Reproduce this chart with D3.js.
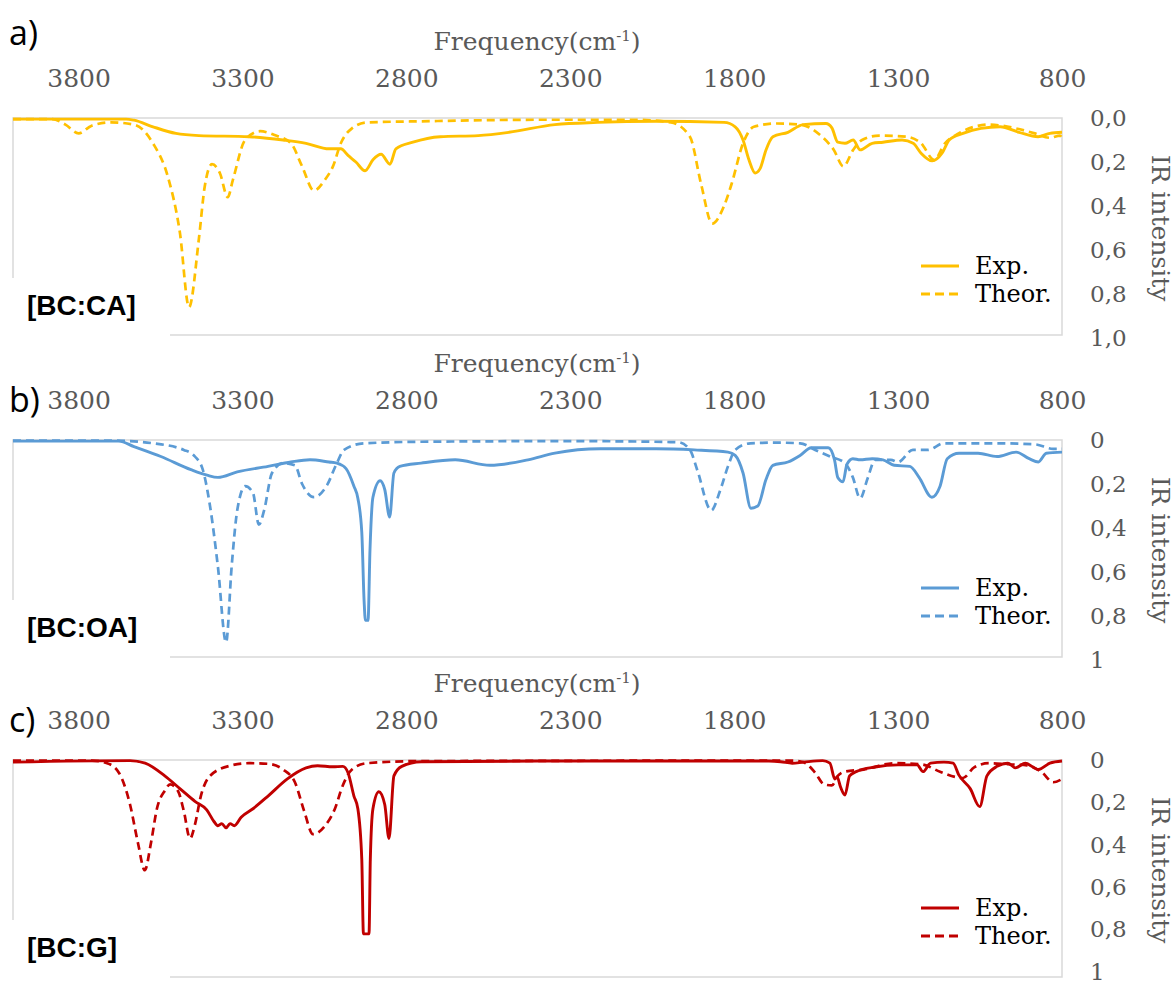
<!DOCTYPE html>
<html>
<head>
<meta charset="utf-8">
<script src="https://cdn.jsdelivr.net/npm/d3@7"></script>
<style>
  body { margin: 0; background: #fff; }
  svg text { font-family: "DejaVu Serif", serif; }
</style>
</head>
<body>
<div id="chart"></div>
<script>
// frequency axis ticks and intensity ticks
const freqTicks = [3800, 3300, 2800, 2300, 1800, 1300, 800];
const intensityTicks = [0, 0.2, 0.4, 0.6, 0.8, 1];
const panelLetters = ['a)', 'b)', 'c)'];
const systemLabels = ['[BC:CA]', '[BC:OA]', '[BC:G]'];
const seriesNames = ['Exp.', 'Theor.'];

// [frequency cm-1, IR intensity]
const caExp = [[4000,0.005],[3655,0.005],[3631,0.01],[3573,0.04],[3503,0.07],[3433,0.08],[3280,0.085],[3176,0.10],[3106,0.115],[3036,0.14],[3000,0.14],[2978,0.17],[2954,0.20],[2926,0.24],[2902,0.19],[2877,0.165],[2850,0.21],[2832,0.14],[2780,0.11],[2697,0.085],[2581,0.08],[2487,0.065],[2347,0.03],[2218,0.02],[2038,0.015],[1831,0.02],[1797,0.04],[1773,0.10],[1755,0.19],[1736,0.25],[1721,0.23],[1703,0.145],[1682,0.085],[1636,0.065],[1590,0.03],[1520,0.025],[1502,0.045],[1484,0.11],[1462,0.115],[1437,0.10],[1416,0.145],[1379,0.115],[1346,0.11],[1288,0.10],[1254,0.115],[1230,0.16],[1196,0.195],[1166,0.16],[1144,0.10],[1102,0.07],[1047,0.047],[989,0.04],[931,0.065],[873,0.085],[837,0.07],[800,0.065]];
const caTheor = [[4000,0.005],[3880,0.005],[3840,0.03],[3800,0.07],[3760,0.035],[3701,0.02],[3631,0.03],[3573,0.115],[3527,0.27],[3491,0.52],[3463,0.86],[3433,0.55],[3415,0.31],[3393,0.21],[3369,0.25],[3345,0.36],[3329,0.28],[3292,0.10],[3246,0.06],[3198,0.08],[3152,0.115],[3118,0.22],[3082,0.33],[3048,0.28],[3024,0.22],[3000,0.115],[2966,0.047],[2920,0.02],[2755,0.015],[2400,0.008],[2100,0.008],[1993,0.02],[1935,0.085],[1901,0.30],[1867,0.48],[1831,0.40],[1808,0.30],[1773,0.115],[1740,0.04],[1670,0.025],[1599,0.03],[1532,0.085],[1496,0.145],[1467,0.22],[1437,0.145],[1410,0.10],[1358,0.08],[1276,0.085],[1230,0.115],[1190,0.19],[1157,0.115],[1115,0.07],[1023,0.03],[941,0.047],[883,0.07],[837,0.09],[806,0.08],[800,0.09]];

const oaExp = [[4000,0.005],[3677,0.005],[3631,0.03],[3549,0.075],[3457,0.135],[3408,0.16],[3375,0.17],[3316,0.145],[3222,0.12],[3152,0.10],[3094,0.09],[3036,0.10],[3012,0.105],[2984,0.13],[2960,0.21],[2948,0.265],[2936,0.42],[2929,0.73],[2925,0.82],[2917,0.82],[2911,0.5],[2902,0.26],[2880,0.185],[2866,0.225],[2851,0.35],[2838,0.15],[2820,0.12],[2755,0.105],[2651,0.09],[2545,0.115],[2429,0.09],[2347,0.06],[2209,0.04],[2038,0.04],[1922,0.045],[1819,0.055],[1797,0.07],[1773,0.15],[1749,0.31],[1728,0.30],[1703,0.18],[1682,0.115],[1636,0.10],[1599,0.07],[1565,0.035],[1513,0.035],[1494,0.09],[1484,0.17],[1468,0.19],[1456,0.11],[1438,0.085],[1416,0.09],[1379,0.085],[1346,0.09],[1312,0.115],[1264,0.12],[1236,0.17],[1197,0.26],[1172,0.21],[1150,0.085],[1114,0.06],[1056,0.06],[998,0.075],[940,0.055],[900,0.085],[872,0.10],[848,0.06],[800,0.055]];
const oaTheor = [[4000,0.003],[3689,0.003],[3573,0.015],[3479,0.045],[3445,0.075],[3421,0.135],[3399,0.30],[3375,0.575],[3350,0.92],[3333,0.575],[3316,0.32],[3292,0.21],[3268,0.24],[3250,0.385],[3234,0.32],[3210,0.15],[3176,0.105],[3140,0.115],[3118,0.20],[3082,0.26],[3042,0.205],[3012,0.105],[2990,0.045],[2929,0.015],[2755,0.008],[2300,0.005],[1971,0.01],[1935,0.045],[1913,0.135],[1870,0.32],[1843,0.23],[1819,0.12],[1797,0.045],[1751,0.015],[1669,0.012],[1599,0.015],[1553,0.045],[1507,0.075],[1462,0.105],[1438,0.17],[1416,0.265],[1392,0.17],[1370,0.09],[1322,0.09],[1300,0.10],[1255,0.045],[1209,0.045],[1160,0.015],[998,0.015],[882,0.02],[827,0.04],[800,0.04]];

const gExp = [[4000,0.01],[3643,0.003],[3597,0.015],[3537,0.075],[3491,0.135],[3445,0.195],[3409,0.235],[3387,0.29],[3375,0.31],[3363,0.30],[3350,0.32],[3338,0.30],[3325,0.31],[3304,0.27],[3268,0.23],[3222,0.17],[3164,0.09],[3106,0.037],[3071,0.027],[3024,0.032],[2994,0.03],[2978,0.06],[2960,0.17],[2948,0.23],[2936,0.47],[2931,0.82],[2914,0.82],[2910,0.47],[2902,0.23],[2884,0.15],[2866,0.21],[2853,0.37],[2838,0.075],[2814,0.03],[2755,0.008],[2400,0.005],[1694,0.005],[1658,0.008],[1623,0.015],[1589,0.01],[1530,0.003],[1508,0.015],[1493,0.09],[1486,0.08],[1475,0.13],[1462,0.165],[1448,0.075],[1428,0.055],[1370,0.033],[1300,0.023],[1242,0.023],[1224,0.055],[1201,0.015],[1160,0.01],[1132,0.015],[1115,0.07],[1080,0.135],[1051,0.22],[1029,0.075],[998,0.03],[965,0.015],[942,0.037],[912,0.015],[872,0.045],[837,0.015],[800,0.005]];
const gTheor = [[4000,0.003],[3759,0.003],[3713,0.015],[3677,0.06],[3643,0.21],[3619,0.39],[3598,0.52],[3579,0.39],[3561,0.23],[3537,0.145],[3521,0.115],[3497,0.145],[3479,0.24],[3460,0.37],[3445,0.305],[3427,0.17],[3399,0.075],[3338,0.027],[3280,0.015],[3222,0.018],[3176,0.045],[3140,0.105],[3112,0.24],[3085,0.35],[3048,0.31],[3018,0.23],[2994,0.12],[2966,0.045],[2920,0.015],[2755,0.005],[1623,0.003],[1589,0.01],[1553,0.06],[1526,0.115],[1502,0.12],[1484,0.075],[1462,0.055],[1405,0.045],[1312,0.015],[1230,0.02],[1172,0.055],[1126,0.08],[1102,0.085],[1068,0.035],[1023,0.015],[965,0.02],[906,0.025],[860,0.06],[827,0.105],[800,0.09]];

const panels = [
  { exp: caExp, theor: caTheor, color: '#FFC000', top: 118, span: 220, letterDy: -73, fmt: d => d.toFixed(1).replace('.', ',') },
  { exp: oaExp, theor: oaTheor, color: '#5B9BD5', top: 440, span: 220, letterDy: -28, fmt: d => String(d).replace('.', ',') },
  { exp: gExp, theor: gTheor, color: '#C00000', top: 760, span: 212, letterDy: -28, fmt: d => String(d).replace('.', ',') }
];

const width = 1174, height = 985;
const plotLeft = 13, plotRight = 1062, plotH = 217;

const svg = d3.select('#chart').append('svg')
  .attr('width', width)
  .attr('height', height);

const x = d3.scaleLinear().domain([4000, 800]).range([plotLeft, plotRight]);

panels.forEach((p, i) => {
  const y = d3.scaleLinear().domain([0, 1]).range([p.top, p.top + p.span]);
  const g = svg.append('g');

  // plot area border (Excel style, light grey)
  g.append('rect')
    .attr('x', plotLeft).attr('y', p.top)
    .attr('width', plotRight - plotLeft).attr('height', plotH)
    .attr('fill', 'none').attr('stroke', '#d9d9d9').attr('stroke-width', 1.5);

  // axis title
  const title = g.append('text')
    .attr('x', 537).attr('y', p.top - 68)
    .attr('text-anchor', 'middle')
    .style('font-size', '25px').style('fill', '#595959');
  title.append('tspan').text('Frequency(cm');
  title.append('tspan').attr('dy', -9).style('font-size', '15px').text('-1');
  title.append('tspan').attr('dy', 9).text(')');

  // top frequency axis
  const xAxis = g.append('g')
    .attr('transform', `translate(0,${p.top - 31})`)
    .call(d3.axisTop(x).tickValues(freqTicks).tickSize(0).tickPadding(0).tickFormat(d3.format('d')));
  xAxis.select('.domain').remove();
  xAxis.selectAll('text')
    .style('font-family', '"DejaVu Serif", serif')
    .style('font-size', '25px').style('fill', '#595959');

  // right intensity axis
  const yAxis = g.append('g')
    .attr('transform', `translate(${plotRight + 28},0)`)
    .call(d3.axisRight(y).tickValues(intensityTicks).tickSize(0).tickPadding(0).tickFormat(p.fmt));
  yAxis.select('.domain').remove();
  yAxis.selectAll('text')
    .style('font-family', '"DejaVu Serif", serif')
    .style('font-size', '23px').style('fill', '#595959');

  g.append('text')
    .attr('transform', `translate(1152,${p.top + 110}) rotate(90)`)
    .attr('text-anchor', 'middle')
    .style('font-size', '25px').style('fill', '#595959')
    .text('IR intensity');

  const line = d3.line()
    .x(d => x(d[0]))
    .y(d => y(d[1]))
    .curve(d3.curveMonotoneX);

  g.append('path')
    .attr('d', line(p.theor))
    .attr('fill', 'none').attr('stroke', p.color)
    .attr('stroke-width', 2.7).attr('stroke-dasharray', '8,5');

  g.append('path')
    .attr('d', line(p.exp))
    .attr('fill', 'none').attr('stroke', p.color)
    .attr('stroke-width', 2.9).attr('stroke-linejoin', 'round');

  // white box behind the system label covers the border corner
  g.append('rect')
    .attr('x', 0).attr('y', p.top + 160)
    .attr('width', 170).attr('height', 70)
    .attr('fill', '#fff');

  g.append('text')
    .attr('x', 27).attr('y', p.top + 197)
    .style('font-family', '"Liberation Sans", Arial, sans-serif')
    .style('font-weight', 'bold').style('font-size', '28px')
    .style('fill', '#000')
    .text(systemLabels[i]);

  g.append('text')
    .attr('x', 9).attr('y', p.top + p.letterDy)
    .style('font-family', '"Open Sans", sans-serif')
    .style('font-size', '34px').style('fill', '#000')
    .text(panelLetters[i]);

  // legend
  const leg = g.append('g').attr('transform', `translate(921,${p.top + 148})`);
  seriesNames.forEach((name, k) => {
    leg.append('line')
      .attr('x1', 0).attr('x2', 38)
      .attr('y1', k * 28).attr('y2', k * 28)
      .attr('stroke', p.color).attr('stroke-width', 2.9)
      .attr('stroke-dasharray', k === 1 ? '9,5' : null);
    leg.append('text')
      .attr('x', 54).attr('y', k * 28 + 8)
      .style('font-size', '24px').style('fill', '#000')
      .text(name);
  });
});
</script>
</body>
</html>
